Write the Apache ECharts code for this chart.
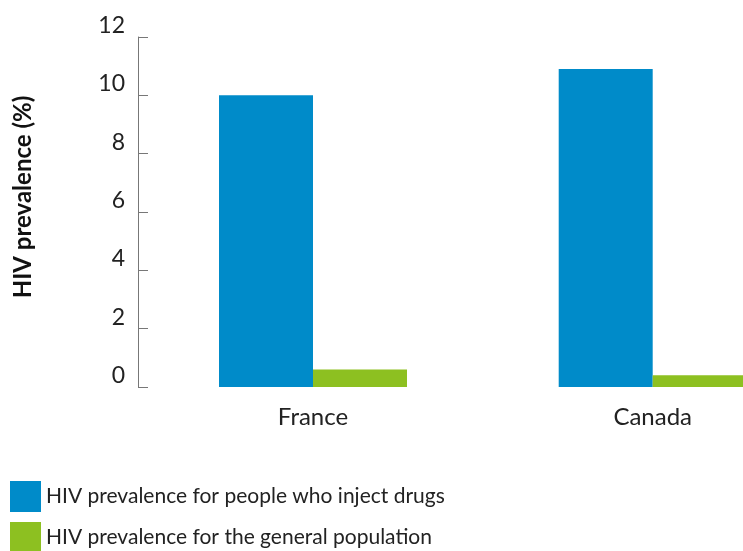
<!DOCTYPE html>
<html><head><meta charset="utf-8">
<script src="https://cdn.jsdelivr.net/npm/echarts@6/dist/echarts.min.js"></script>
<style>html,body{margin:0;padding:0;background:#fff}#c{width:743px;height:551px}</style>
</head><body><div id="c"></div>
<script>
const categories = ['France', 'Canada'];
const pwidValues = [10.0, 10.9];
const generalValues = [0.6, 0.4];
const seriesNames = ['HIV prevalence for people who inject drugs', 'HIV prevalence for the general population'];
const yAxisName = 'HIV prevalence (%)';

const font = 'Lato, "Noto Sans", sans-serif';
const legendText = { fontFamily: font, fontSize: 21, color: '#222' };
const chart = echarts.init(document.getElementById('c'));
chart.setOption({
  animation: false,
  color: ['#008BC9', '#8DC021'],
  grid: { left: 313, top: 37, width: 339.7, height: 350 },
  legend: [
    { orient: 'vertical', left: 5, top: 476, itemWidth: 31, itemHeight: 31, icon: 'rect', textStyle: legendText, data: [seriesNames[0]] },
    { orient: 'vertical', left: 5, top: 517, itemWidth: 31, itemHeight: 31, icon: 'rect', textStyle: legendText, data: [seriesNames[1]] }
  ],
  xAxis: {
    type: 'category', data: categories, boundaryGap: false,
    axisLine: { show: false }, axisTick: { show: false },
    axisLabel: { fontFamily: font, fontSize: 24, color: '#222', margin: 18 }
  },
  yAxis: {
    type: 'value', min: 0, max: 12, interval: 2, offset: 175,
    name: yAxisName, nameLocation: 'middle', nameGap: 103,
    nameTextStyle: { fontFamily: font, fontSize: 24, fontWeight: 'bold', color: '#111', padding: [0, 0, 0, 30] },
    axisLine: { show: true, lineStyle: { color: '#777', width: 1 } },
    axisTick: { show: true, inside: true, length: 10, lineStyle: { color: '#777' } },
    axisLabel: { fontFamily: font, fontSize: 23, color: '#222', margin: 13, verticalAlign: 'bottom' },
    splitLine: { show: false }
  },
  series: [
    { name: seriesNames[0], type: 'bar', data: pwidValues, barWidth: 94, barGap: '0%', clip: false },
    { name: seriesNames[1], type: 'bar', data: generalValues, barWidth: 94, barGap: '0%', clip: false }
  ]
});
</script></body></html>
